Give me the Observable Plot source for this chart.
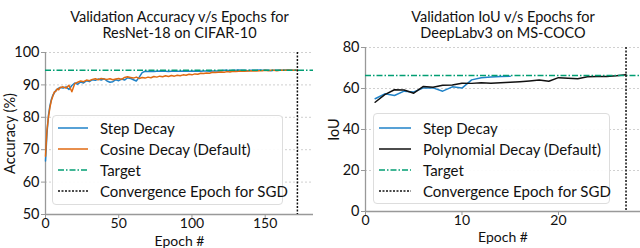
<!DOCTYPE html>
<html>
<head>
<meta charset="utf-8">
<script src="https://cdn.jsdelivr.net/npm/d3@7"></script>
<script src="https://cdn.jsdelivr.net/npm/@observablehq/plot@0.6"></script>
<style>
  body { margin: 0; background: white; }
  #wrap { position: relative; width: 640px; height: 248px; display: flex; font-family: Lato, sans-serif; }
  .legend { position: absolute; background: rgba(255,255,255,0.92); border: 1px solid #ddd; border-radius: 4px; box-sizing: border-box; font-size: 15px; color: #111; }
  .legend .row { position: absolute; left: 0; display: flex; align-items: center; white-space: nowrap; }
  .legend svg { display: block; }
</style>
</head>
<body>
<div id="wrap"></div>
<script>
// ---------- Left chart data: ResNet-18 on CIFAR-10 ----------
const leftEpochs = [0,1,2,3,4,5,6,7,8,9,10,12,14,16,18,20,22,24,26,28,30,32,34,36,38,40,42,44,46,48,50,52,54,56,58,60,62,64,66,68,70,72,74,76,78,80,82,84,86,88,90,92,94,96,98,100,102,104,106,108,110,112,114,116,118,120,122,124,126,128,130,132,134,136,138,140,142,144,146,148,150,152,154,156,158,160,162,164,166,168,170,172];
const stepAcc = [66.5,75.0,80.5,83.5,85.5,86.8,87.5,88.3,88.6,89.0,89.2,
  89.0,89.4,88.6,89.8,90.6,90.2,90.9,90.6,91.3,91.0,91.6,91.4,91.8,91.5,91.9,91.2,90.8,91.0,91.6,91.3,91.8,91.5,92.2,92.0,91.6,91.2,92.4,93.8,94.2,94.1,
  94.2,94.1,94.2,94.3,94.2,94.2,94.1,94.2,94.3,94.2,94.2,94.3,94.2,94.2,94.3,94.2,94.3,94.2,94.3,94.3,94.2,94.3,94.3,94.3,94.4,
  94.5,94.5,94.4,94.5,94.5,94.6,94.5,94.5,94.4,94.5,94.5,94.5,94.6,94.5,94.5,94.5,94.4,94.5,94.5,94.5,94.5,94.6,94.5,94.5,94.5,94.5];
const cosineAcc = [68.0,76.0,80.0,83.0,85.2,86.5,87.8,88.0,88.8,88.5,89.2,
  89.4,89.0,89.9,87.9,90.4,90.8,91.2,91.0,91.5,91.3,91.7,91.9,91.6,92.0,91.8,91.7,91.9,91.6,91.8,92.0,91.7,92.3,92.5,92.3,92.1,92.4,92.0,92.3,92.1,92.4,
  92.2,92.6,92.4,92.7,92.5,92.8,92.6,92.9,92.7,93.0,92.8,93.1,93.0,93.3,93.1,93.4,93.3,93.6,93.5,93.7,93.6,93.9,93.8,93.9,94.0,
  93.9,94.1,94.0,94.2,94.1,94.2,94.3,94.2,94.3,94.3,94.4,94.3,94.4,94.4,94.5,94.4,94.5,94.5,94.4,94.5,94.5,94.5,94.6,94.5,94.5,94.5];
const leftTarget = 94.5;
const leftConvergence = 172;
const leftXTicks = [0,50,100,150];
const leftYTicks = [50,60,70,80,90,100];

// ---------- Right chart data: DeepLabv3 on MS-COCO ----------
const polyEpochs = [1,2,3,4,5,6,7,8,9,10,11,12,13,14,15,16,17,18,19,20,21,22,23,24,25,26,27];
const polyIoU = [53.3,57.0,59.4,59.3,57.7,61.0,60.6,61.6,61.7,62.6,62.5,62.8,62.6,62.8,63.0,63.3,63.7,64.1,63.5,65.3,65.0,64.8,65.7,65.8,65.9,66.2,66.7];
const stepEpochs = [1,2,3,4,5,6,7,8,9,10,11,12,13,14,15];
const stepIoU = [55.0,57.4,56.6,58.7,58.3,60.3,60.3,58.7,60.8,60.2,64.2,65.2,65.6,65.8,66.0];
const rightTarget = 66.3;
const rightConvergence = 27;
const rightXTicks = [0,10,20];
const rightYTicks = [0,20,40,60,80];

const C_BLUE = "#1f82c8", C_ORANGE = "#e06a12", C_GREEN = "#029e73", C_BLACK = "#111";
const TARGET_DASH = "6,2,1.5,2", CONV_DASH = "2,1.5";

const leftData = leftEpochs.map((e,i) => ({epoch: e, step: stepAcc[i], cosine: cosineAcc[i]}));
const polyData = polyEpochs.map((e,i) => ({epoch: e, v: polyIoU[i]}));
const stepData = stepEpochs.map((e,i) => ({epoch: e, v: stepIoU[i]}));

const baseStyle = {fontFamily: "Lato, sans-serif", fontSize: "14.5px", color: "#111", background: "white", overflow: "visible"};

function axes(xTicks, yTicks, yLabel, yOff, xOff, y0) {
  return [
    Plot.gridY(yTicks, {stroke: "#bbb", strokeOpacity: 1, strokeWidth: 0.7, strokeDasharray: "2,2"}),
    Plot.ruleX([0], {stroke: "#999", strokeWidth: 1.3}),
    Plot.ruleY([y0], {stroke: "#999", strokeWidth: 1.3}),
    Plot.axisY(yTicks, {tickSize: 4, stroke: "#999", fill: "#111", tickPadding: 2, label: yLabel, labelAnchor: "center", labelArrow: "none", labelOffset: yOff, fontSize: 14.5}),
    Plot.axisX(xTicks, {tickSize: 4, stroke: "#999", fill: "#111", tickPadding: 0, label: "Epoch #", labelAnchor: "center", labelArrow: "none", labelOffset: xOff, fontSize: 14})
  ];
}

const left = Plot.plot({
  width: 320, height: 248,
  marginLeft: 45, marginRight: 7, marginTop: 52, marginBottom: 34,
  x: {domain: [0, 183]},
  y: {domain: [50, 100]},
  style: baseStyle,
  marks: [
    ...axes(leftXTicks, leftYTicks, "Accuracy (%)", 41, 31, 50),
    Plot.line(leftData, {x: "epoch", y: "step", stroke: C_BLUE, strokeWidth: 1.5}),
    Plot.line(leftData, {x: "epoch", y: "cosine", stroke: C_ORANGE, strokeWidth: 1.5}),
    Plot.ruleY([leftTarget], {stroke: C_GREEN, strokeWidth: 1.5, strokeDasharray: TARGET_DASH}),
    Plot.ruleX([leftConvergence], {stroke: C_BLACK, strokeWidth: 1.5, strokeDasharray: CONV_DASH}),
    Plot.text(["Validation Accuracy v/s Epochs for"], {text: d => d, frameAnchor: "top", dy: -41, fontSize: 14.5}),
    Plot.text(["ResNet-18 on CIFAR-10"], {text: d => d, frameAnchor: "top", dy: -24.5, fontSize: 14.5})
  ]
});

const right = Plot.plot({
  width: 320, height: 248,
  marginLeft: 45, marginRight: 0, marginTop: 47, marginBottom: 37,
  x: {domain: [0, 28.5]},
  y: {domain: [0, 80]},
  style: baseStyle,
  marks: [
    ...axes(rightXTicks, rightYTicks, "IoU", 37, 30, 0),
    Plot.line(stepData, {x: "epoch", y: "v", stroke: C_BLUE, strokeWidth: 1.5}),
    Plot.line(polyData, {x: "epoch", y: "v", stroke: C_BLACK, strokeWidth: 1.5}),
    Plot.ruleY([rightTarget], {stroke: C_GREEN, strokeWidth: 1.5, strokeDasharray: TARGET_DASH}),
    Plot.ruleX([rightConvergence], {stroke: C_BLACK, strokeWidth: 1.5, strokeDasharray: CONV_DASH}),
    Plot.text(["Validation IoU v/s Epochs for"], {text: d => d, frameAnchor: "top", dy: -36, fontSize: 14.5}),
    Plot.text(["DeepLabv3 on MS-COCO"], {text: d => d, frameAnchor: "top", dy: -19.5, fontSize: 14.5})
  ]
});

const wrap = document.getElementById("wrap");
wrap.appendChild(left);
wrap.appendChild(right);

function legend(box, items) {
  const div = document.createElement("div");
  div.className = "legend";
  Object.assign(div.style, {left: box.x + "px", top: box.y + "px", width: box.w + "px", height: box.h + "px"});
  items.forEach((it, i) => {
    const row = document.createElement("div");
    row.className = "row";
    row.style.top = (box.first + i * box.step - 9) + "px";
    row.style.height = "18px";
    row.style.left = box.swX + "px";
    const svgNS = "http://www.w3.org/2000/svg";
    const s = document.createElementNS(svgNS, "svg");
    s.setAttribute("width", box.swW);
    s.setAttribute("height", 18);
    const l = document.createElementNS(svgNS, "line");
    l.setAttribute("x1", 0); l.setAttribute("x2", box.swW);
    l.setAttribute("y1", 9); l.setAttribute("y2", 9);
    l.setAttribute("stroke", it.color);
    l.setAttribute("stroke-width", 1.5);
    if (it.dash) l.setAttribute("stroke-dasharray", it.dash);
    s.appendChild(l);
    row.appendChild(s);
    const t = document.createElement("span");
    t.textContent = it.label;
    t.style.marginLeft = box.gap + "px";
    row.appendChild(t);
    div.appendChild(row);
  });
  wrap.appendChild(div);
}

legend({x: 52, y: 115, w: 231, h: 90, first: 12, step: 21, swX: 5, swW: 30, gap: 12}, [
  {label: "Step Decay", color: C_BLUE},
  {label: "Cosine Decay (Default)", color: C_ORANGE},
  {label: "Target", color: C_GREEN, dash: TARGET_DASH},
  {label: "Convergence Epoch for SGD", color: C_BLACK, dash: CONV_DASH}
]);
legend({x: 373, y: 113, w: 237, h: 91, first: 14, step: 21, swX: 5, swW: 32, gap: 12}, [
  {label: "Step Decay", color: C_BLUE},
  {label: "Polynomial Decay (Default)", color: C_BLACK},
  {label: "Target", color: C_GREEN, dash: TARGET_DASH},
  {label: "Convergence Epoch for SGD", color: C_BLACK, dash: CONV_DASH}
]);
</script>
</body>
</html>
